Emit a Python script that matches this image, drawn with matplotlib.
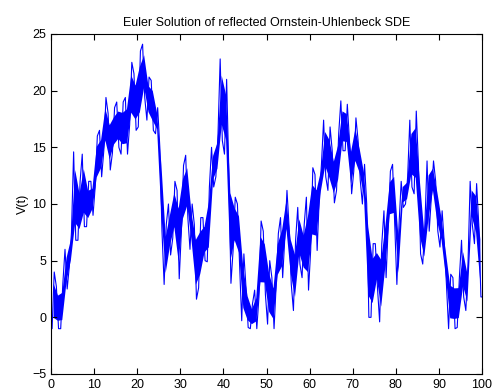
import numpy as np
import matplotlib
matplotlib.use("Agg")
import matplotlib.pyplot as plt

# low / high of the trace, one pair per unit of t (0..99)
v_low = [-1, -1, -1, 2.5, 4.5, 6.8, 6.8, 8, 8, 9,
         11.5, 12.4, 14.7, 13, 14.5, 15, 14.4, 14.4, 17, 16.5,
         16.8, 19.4, 17.4, 16.5, 16.2, 7.6, 2.9, 5.5, 7, 3.4,
         7.6, 8.8, 6, 1.6, 2.6, 5, 4.9, 11.5, 12.4, 15.6,
         14.4, 3, 5.9, 4.7, -0.3, -0.9, -1, -1, 1.8, 2,
         -0.6, -1, 2.9, 3.5, 7, 2.9, 0.6, 4.7, 3.5, 2.4,
         5.9, 5.9, 10.6, 12.4, 11.2, 10.1, 11.2, 14.7, 14.7, 10.9,
         12.9, 12.1, 10, 0, 0, 2.6, -0.4, 3.5, 8.2, 8.2,
         2.9, 9.7, 10, 11.5, 10.9, 5.6, 4.7, 7.6, 10.6, 7.6,
         6.2, 2.9, -1, -1, -0.9, 1.8, 0.6, 8.2, 6.5, 1.8]
v_high = [4, 2.7, 3, 6, 7.5, 14.6, 12, 14.4, 12, 12,
          16, 16.5, 19.4, 18, 18.5, 19, 19, 19.4, 22.5, 21.5,
          23.5, 24.1, 21.2, 20.9, 18.5, 15, 8.2, 10, 12, 11.2,
          13.4, 14.3, 10, 8.2, 8.8, 8.8, 11.5, 15, 16.2, 22.8,
          21, 13, 10.6, 10, 5.6, 2.6, 1.2, 2.4, 8.5, 7.6,
          5, 3.5, 7.4, 8.8, 11.2, 7.9, 6.8, 9.7, 8.2, 10.6,
          13.2, 12.6, 13.5, 17.4, 16.8, 14.7, 16.2, 19.1, 18.8, 15.6,
          17.6, 15.6, 13.5, 10, 6.5, 6.5, 6.5, 9.4, 12.9, 13.5,
          8.2, 12, 12.4, 17.4, 18.2, 13.5, 8.2, 13.8, 13.8, 12,
          9.4, 6.5, 3.8, 3.5, 3.5, 6.8, 4.7, 12, 11.8, 8.2]

x_ticks = list(range(0, 101, 10))
y_ticks = list(range(-5, 26, 5))

unit = np.arange(len(v_low))
lo = np.array(v_low)
hi = np.array(v_high)

# zigzag through low/high inside each unit step
t = np.empty(2 * len(unit))
v = np.empty(2 * len(unit))
t[0::2] = unit + 0.25
t[1::2] = unit + 0.75
flip = unit % 2 == 1
v[0::2] = np.where(flip, hi, lo)
v[1::2] = np.where(flip, lo, hi)
t = np.concatenate([[0.0], t, [100.0]])
v = np.concatenate([[0.0], v, [v[-1]]])

plt.rcParams['font.family'] = ['Liberation Sans', 'DejaVu Sans']

fig = plt.figure(figsize=(4.95, 3.92), dpi=100)
ax = fig.add_axes([51 / 495, 18 / 392, 431 / 495, 340 / 392])

# dense part of the noisy path
mid = (lo + hi) / 2
half = (hi - lo) / 2
ax.fill_between(unit + 0.5, mid - 0.6 * half, mid + 0.6 * half,
                color='#0000ff', linewidth=0)
ax.plot(t, v, color='#0000ff', linewidth=0.8)

ax.set_xlim(0, 100)
ax.set_ylim(-5, 25)
ax.set_xticks(x_ticks)
ax.set_yticks(y_ticks)
ax.tick_params(direction='in', top=True, right=True, length=4, labelsize=9)
ax.set_title("Euler Solution of reflected Ornstein-Uhlenbeck SDE", fontsize=9, pad=6)
ax.set_ylabel("V(t)", fontsize=9, labelpad=2)
for s in ax.spines.values():
    s.set_linewidth(0.8)

fig.savefig("out.png", dpi=100)
